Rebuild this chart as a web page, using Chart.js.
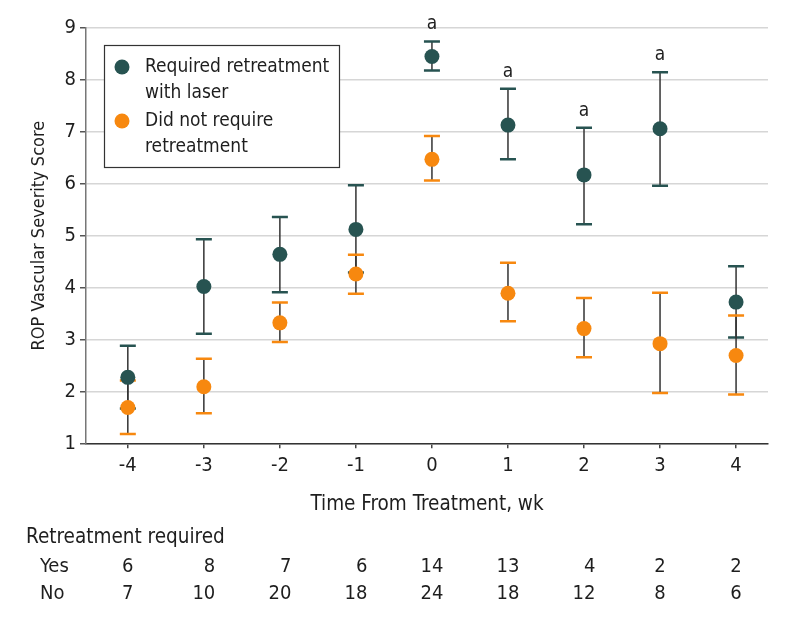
<!DOCTYPE html>
<html>
<head>
<meta charset="utf-8">
<script src="https://cdn.jsdelivr.net/npm/chart.js@4/dist/chart.umd.min.js"></script>
<style>
  html, body { margin: 0; padding: 0; background: #fff; }
  #wrap { width: 794px; height: 622px; }
</style>
</head>
<body>
<div id="wrap"><canvas id="chart" width="794" height="622"></canvas></div>
<script>
"use strict";

// ── Data ───────────────────────────────────────────────────────────── //
const weeks = [-4, -3, -2, -1, 0, 1, 2, 3, 4];

const retreatMean  = [2.27, 4.02, 4.64, 5.12, 8.45, 7.13, 6.17, 7.06, 3.72];
const retreatUpper = [2.88, 4.93, 5.36, 5.97, 8.74, 7.83, 7.08, 8.15, 4.41];
const retreatLower = [1.67, 3.11, 3.91, 4.29, 8.18, 6.47, 5.22, 5.96, 3.04];

const noRetreatMean  = [1.69, 2.09, 3.32, 4.26, 6.47, 3.89, 3.21, 2.92, 2.69];
const noRetreatUpper = [2.21, 2.63, 3.71, 4.63, 6.92, 4.48, 3.80, 3.90, 3.46];
const noRetreatLower = [1.18, 1.58, 2.95, 3.88, 6.06, 3.35, 2.66, 1.97, 1.94];

const significant = [false, false, false, false, true, true, true, true, false];

const countYes = [6, 8, 7, 6, 14, 13, 4, 2, 2];
const countNo  = [7, 10, 20, 18, 24, 18, 12, 8, 6];

const yTicks = [1, 2, 3, 4, 5, 6, 7, 8, 9];

// ── Style ──────────────────────────────────────────────────────────── //
const FONT   = "'Liberation Sans Narrow', 'DejaVu Sans Condensed', sans-serif";
const TEAL   = "#275351";
const ORANGE = "#f7880f";
const INK    = "#1e1e1e";

// ── Plugins ────────────────────────────────────────────────────────── //
const errorBars = {
  id: "errorBars",
  beforeDatasetsDraw(chart) {
    const { ctx, scales: { x, y } } = chart;
    const sets = [
      { lo: retreatLower, hi: retreatUpper, color: TEAL },
      { lo: noRetreatLower, hi: noRetreatUpper, color: ORANGE },
    ];
    ctx.save();
    sets.forEach(s => {
      weeks.forEach((w, i) => {
        const px = x.getPixelForValue(w);
        const top = y.getPixelForValue(s.hi[i]);
        const bot = y.getPixelForValue(s.lo[i]);
        ctx.strokeStyle = "#333";
        ctx.lineWidth = 1.5;
        ctx.beginPath();
        ctx.moveTo(px, top);
        ctx.lineTo(px, bot);
        ctx.stroke();
        ctx.strokeStyle = s.color;
        ctx.lineWidth = 2.5;
        ctx.beginPath();
        ctx.moveTo(px - 8, top); ctx.lineTo(px + 8, top);
        ctx.moveTo(px - 8, bot); ctx.lineTo(px + 8, bot);
        ctx.stroke();
      });
    });
    ctx.restore();
  },
  afterDatasetsDraw(chart) {
    const { ctx, scales: { x, y } } = chart;
    ctx.save();
    ctx.fillStyle = INK;
    ctx.font = `19px ${FONT}`;
    ctx.textAlign = "center";
    ctx.textBaseline = "middle";
    weeks.forEach((w, i) => {
      if (!significant[i]) return;
      ctx.fillText("a", x.getPixelForValue(w), y.getPixelForValue(retreatUpper[i]) - 17);
    });
    ctx.restore();
  },
};

const boxLegend = {
  id: "boxLegend",
  afterDraw(chart) {
    const { ctx } = chart;
    ctx.save();
    ctx.fillStyle = "#fff";
    ctx.fillRect(104, 45, 235, 122);
    ctx.strokeStyle = "#333";
    ctx.lineWidth = 1.2;
    ctx.strokeRect(104.5, 45.5, 235, 122);

    const items = [
      { color: TEAL, lines: ["Required retreatment", "with laser"], y: 67 },
      { color: ORANGE, lines: ["Did not require", "retreatment"], y: 121 },
    ];
    ctx.font = `19px ${FONT}`;
    ctx.textAlign = "left";
    ctx.textBaseline = "middle";
    items.forEach(it => {
      ctx.fillStyle = it.color;
      ctx.beginPath();
      ctx.arc(122, it.y, 7.5, 0, Math.PI * 2);
      ctx.fill();
      ctx.fillStyle = INK;
      it.lines.forEach((t, k) => ctx.fillText(t, 145, it.y + k * 26));
    });
    ctx.restore();
  },
};

const countTable = {
  id: "countTable",
  afterDraw(chart) {
    const { ctx, scales: { x } } = chart;
    ctx.save();
    ctx.fillStyle = INK;
    ctx.textBaseline = "middle";
    ctx.font = `20.5px ${FONT}`;
    ctx.textAlign = "left";
    ctx.fillText("Retreatment required", 26, 538);
    ctx.font = `20px ${FONT}`;
    ctx.fillText("Yes", 40, 567);
    ctx.fillText("No", 40, 594);

    ctx.textAlign = "right";
    weeks.forEach((w, i) => {
      const px = x.getPixelForValue(w);
      const wMax = Math.max(ctx.measureText(String(countYes[i])).width,
                            ctx.measureText(String(countNo[i])).width);
      ctx.fillText(String(countYes[i]), px + wMax / 2, 567);
      ctx.fillText(String(countNo[i]), px + wMax / 2, 594);
    });
    ctx.restore();
  },
};

// ── Chart ──────────────────────────────────────────────────────────── //
const toPoints = vals => weeks.map((w, i) => ({ x: w, y: vals[i] }));

new Chart(document.getElementById("chart"), {
  type: "scatter",
  data: {
    datasets: [
      {
        label: "Required retreatment with laser",
        data: toPoints(retreatMean),
        backgroundColor: TEAL,
        borderColor: TEAL,
        pointRadius: 7.5,
        borderWidth: 0,
        order: 1,
      },
      {
        label: "Did not require retreatment",
        data: toPoints(noRetreatMean),
        backgroundColor: ORANGE,
        borderColor: ORANGE,
        pointRadius: 7.5,
        borderWidth: 0,
        order: 0,
      },
    ],
  },
  options: {
    responsive: false,
    animation: false,
    layout: { padding: { top: 28, right: 26, left: 0, bottom: 0 } },
    plugins: {
      legend: { display: false },
      tooltip: { enabled: false },
    },
    scales: {
      x: {
        type: "linear",
        min: -4.55,
        max: 4.42,
        afterBuildTicks: s => { s.ticks = weeks.map(v => ({ value: v })); },
        afterFit: s => { s.height = 178.7; },
        ticks: {
          color: INK,
          font: { family: FONT, size: 20 },
          padding: 5,
          callback: v => String(v),
        },
        grid: { display: true, drawOnChartArea: false, drawTicks: true, tickLength: 5, tickColor: "#444", lineWidth: 1.5 },
        border: { color: "#333", width: 1.5 },
        title: {
          display: true,
          text: "Time From Treatment, wk",
          color: INK,
          font: { family: FONT, size: 20.5 },
          padding: { top: 0, bottom: 105 },
        },
      },
      y: {
        min: 1,
        max: 9,
        afterBuildTicks: s => { s.ticks = yTicks.map(v => ({ value: v })); },
        afterFit: s => { s.width = 86; },
        ticks: {
          color: INK,
          font: { family: FONT, size: 20 },
          padding: 4,
        },
        grid: { color: "#d6d6d6", lineWidth: 1.5, tickLength: 6, tickColor: "#555" },
        border: { color: "#777", width: 1.5 },
        title: {
          display: true,
          text: "ROP Vascular Severity Score",
          color: INK,
          font: { family: FONT, size: 18 },
          padding: { top: 29, bottom: 0 },
        },
      },
    },
  },
  plugins: [errorBars, boxLegend, countTable],
});
</script>
</body>
</html>
